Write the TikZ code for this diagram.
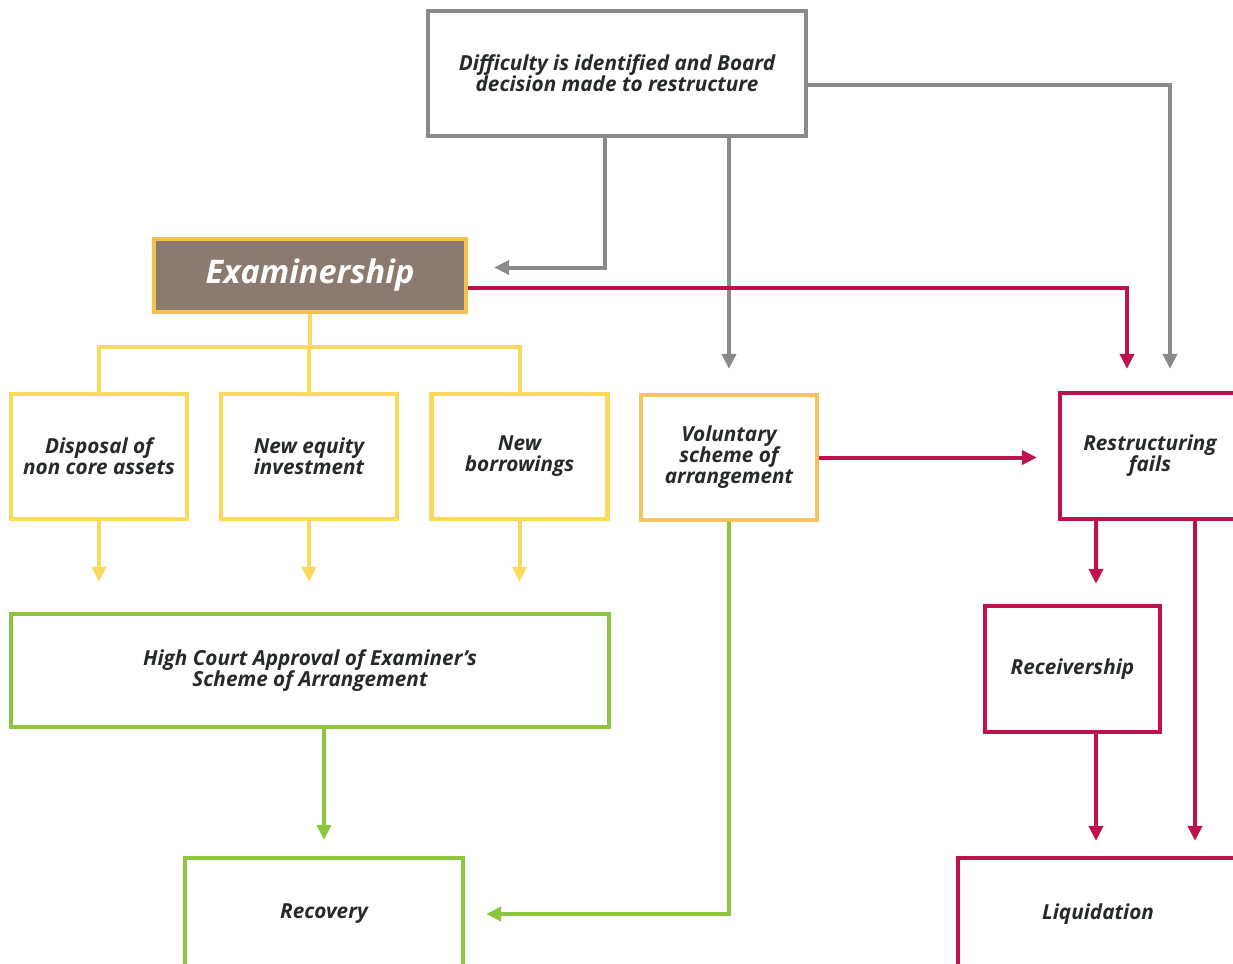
\documentclass[tikz,border=0pt]{standalone}
\usepackage{fontspec}
\setmainfont{Open Sans}
\usepackage{xcolor}
\usepackage{tikz}
\usetikzlibrary{shapes, arrows.meta, positioning, calc}
\definecolor{stepgray}{HTML}{8A8A8A}
\definecolor{exambrown}{HTML}{8B7A70}
\definecolor{examgold}{HTML}{F5C04C}
\definecolor{optyellow}{HTML}{FBD95C}
\definecolor{volorange}{HTML}{F8C25E}
\definecolor{failred}{HTML}{BE1250}
\definecolor{okgreen}{HTML}{8CC63E}
\definecolor{textdark}{HTML}{262B29}

\begin{document}
\begin{tikzpicture}[x=0.02cm, y=-0.02cm,
    box/.style={draw, rectangle, line width=0.085cm, fill=white, align=center, inner sep=0pt,
        text=textdark, font=\bfseries\itshape\fontsize{11.8}{12}\selectfont},
    link/.style={line width=0.08cm},
    tip/.style={link, -{Triangle[length=0.3cm, width=0.28cm]}}]
    \clip (0,0) rectangle (1233,963);
    % boxes
    \node[box, draw=stepgray, minimum width=7.56cm, minimum height=2.5cm] (top) at (617,73.5) {Difficulty is identified and Board\\decision made to restructure};
    \node[box, draw=examgold, fill=exambrown, text=white, minimum width=6.24cm, minimum height=1.46cm,
        font=\bfseries\itshape\fontsize{18.5}{20}\selectfont] (exam) at (310,275.5) {Examinership};
    \node[box, draw=optyellow, minimum width=3.52cm, minimum height=2.5cm] (disposal) at (99,456.5) {Disposal of\\non core assets};
    \node[box, draw=optyellow, minimum width=3.52cm, minimum height=2.5cm] (equity) at (309,456.5) {New equity\\investment};
    \node[box, draw=optyellow, minimum width=3.52cm, minimum height=2.5cm] (borrow) at (519.5,456.5) {New\\borrowings};
    \node[box, draw=volorange, minimum width=3.52cm, minimum height=2.5cm] (vol) at (729,457.5) {Voluntary\\scheme of\\arrangement};
    \node[box, draw=failred, minimum width=3.6cm, minimum height=2.52cm] (fails) at (1150,456) {Restructuring\\fails};
    \node[box, draw=okgreen, minimum width=11.96cm, minimum height=2.26cm] (court) at (310,670.5) {High Court Approval of Examiner’s\\Scheme of Arrangement};
    \node[box, draw=okgreen, minimum width=5.56cm, minimum height=2.24cm] (recovery) at (324,914) {Recovery};
    \node[box, draw=failred, minimum width=3.5cm, minimum height=2.52cm] (receiver) at (1072.5,669) {Receivership};
    \node[box, draw=failred, minimum width=5.6cm, minimum height=2.24cm] (liquid) at (1098,914) {Liquidation};

    % grey connectors from the board decision
    \draw[tip, stepgray, shorten >=0.52cm] ($(top.south)+(-12,0)$) |- ($(exam.east)+(0,-8)$);
    \draw[tip, stepgray, shorten >=0.48cm] (top.south -| vol.north) -- (vol.north);
    \draw[tip, stepgray, shorten >=0.44cm] ($(top.east)+(0,12)$) -| ($(fails.north)+(20,0)$);

    % examinership
    \draw[tip, failred, shorten >=0.44cm] ($(exam.east)+(0,12)$) -| ($(fails.north)+(-23,0)$);
    \coordinate (split) at ($(exam.south)+(0,33)$);
    \foreach \b in {disposal, equity, borrow} {
        \draw[link, optyellow] (exam.south) |- (split) -| (\b.north);
        \draw[tip, optyellow, shorten >=0.6cm] (\b.south) -- (\b.south |- court.north);
    }
    \draw[tip, okgreen, shorten >=0.32cm] (court.south -| recovery.north) -- (recovery.north);

    % voluntary scheme
    \draw[tip, failred, shorten >=0.42cm] (vol.east) -- (vol.east -| fails.west);
    \draw[tip, okgreen, shorten >=0.42cm] (vol.south) |- (recovery.east);

    % failure
    \draw[tip, failred, shorten >=0.4cm] ($(fails.south)+(-54,0)$) -- ($(receiver.north)+(23.5,0)$);
    \draw[tip, failred, shorten >=0.3cm] ($(receiver.south)+(23.5,0)$) coordinate (r1) -- (r1 |- liquid.north);
    \draw[tip, failred, shorten >=0.3cm] ($(fails.south)+(45,0)$) coordinate (f1) -- (f1 |- liquid.north);
\end{tikzpicture}
\end{document}
